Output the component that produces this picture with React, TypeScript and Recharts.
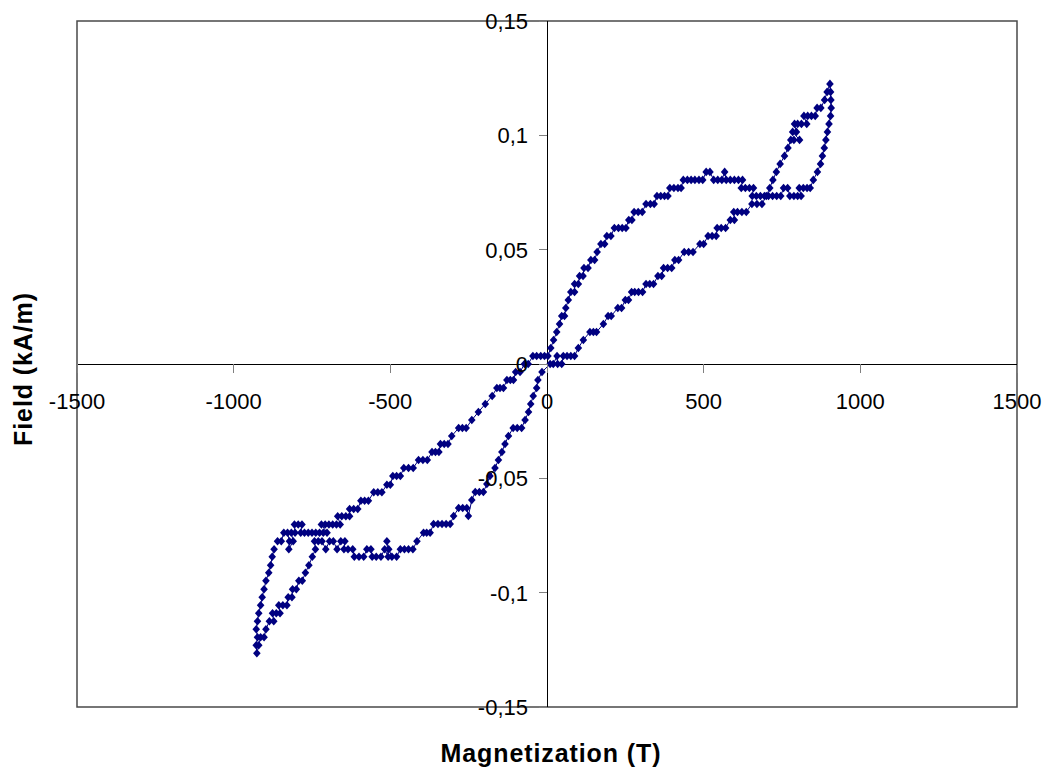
import React from "react";
import {
  ScatterChart,
  Scatter,
  XAxis,
  YAxis,
  ReferenceLine,
  ReferenceArea,
  Label,
} from "recharts";

type Pt = [number, number];

// lower loop top, rising back towards the origin
const ascendingLow: Pt[] = [
  [-860, -0.0775], [-848, -0.0775], [-840, -0.0738], [-828, -0.0738], [-822, -0.0775],
  [-824, -0.081], [-810, -0.0775], [-816, -0.0738], [-804, -0.0738], [-806, -0.0702],
  [-794, -0.0702], [-782, -0.0702], [-786, -0.0738], [-774, -0.0738], [-762, -0.0738],
  [-750, -0.0738], [-738, -0.0738], [-726, -0.0738], [-714, -0.0738], [-702, -0.0738],
  [-720, -0.0702], [-708, -0.0702], [-696, -0.0702], [-684, -0.0702], [-672, -0.0702],
  [-660, -0.0702], [-668, -0.0666], [-655, -0.0666], [-642, -0.0666], [-630, -0.0666],
  [-630, -0.0634], [-617, -0.0634], [-604, -0.0634], [-594, -0.0598], [-582, -0.0598],
  [-570, -0.0598], [-553, -0.0561], [-540, -0.0561], [-527, -0.0561], [-511, -0.0528],
  [-500, -0.0528], [-492, -0.049], [-480, -0.049], [-468, -0.049], [-457, -0.0455],
  [-442, -0.0455], [-427, -0.0455], [-410, -0.042], [-396, -0.042], [-382, -0.042],
  [-367, -0.0385], [-356, -0.0385], [-345, -0.0385], [-340, -0.035], [-328, -0.035],
  [-316, -0.035], [-304, -0.0315], [-282, -0.028], [-270, -0.028], [-258, -0.028],
  [-240, -0.0245], [-219, -0.021], [-197, -0.0175], [-175, -0.014], [-160, -0.0105],
  [-150, -0.0105], [-139, -0.0105], [-128, -0.007], [-117, -0.007], [-107, -0.007],
  [-100, -0.0035], [-86, -0.0035], [-72, 0], [-60, 0], [-45, 0.0035],
  [-33, 0.0035], [-20, 0.0035], [-8, 0.0035], [3, 0.0035],
];

// rising branch up to the plateau near 0.08
const ascendingHigh: Pt[] = [
  [12, 0.007], [21, 0.0105], [31, 0.014], [40, 0.0175], [47, 0.021],
  [56, 0.021], [60, 0.0245], [68, 0.028], [76, 0.0315], [88, 0.0315],
  [88, 0.035], [100, 0.035], [104, 0.0385], [115, 0.0385], [118, 0.042],
  [131, 0.042], [140, 0.0455], [152, 0.0455], [160, 0.049], [172, 0.0525],
  [184, 0.0525], [191, 0.056], [204, 0.056], [215, 0.0595], [228, 0.0595],
  [240, 0.0595], [252, 0.0595], [261, 0.063], [271, 0.063], [278, 0.0665],
  [291, 0.0665], [304, 0.0665], [316, 0.07], [330, 0.07], [342, 0.07],
  [351, 0.0735], [363, 0.0735], [375, 0.0735], [386, 0.0735], [392, 0.077],
  [405, 0.077], [418, 0.077], [428, 0.077], [435, 0.0805], [448, 0.0805],
  [460, 0.0805], [472, 0.0805], [485, 0.0805], [497, 0.0805], [508, 0.084],
  [520, 0.084], [532, 0.0805], [545, 0.0805], [558, 0.0805], [567, 0.084],
  [572, 0.0805], [585, 0.0805], [598, 0.0805], [611, 0.0805], [624, 0.0805],
  [620, 0.077], [633, 0.077], [646, 0.077], [659, 0.077], [655, 0.0735],
  [668, 0.0735], [681, 0.0735], [694, 0.0735],
];

// small loop at the positive tip
const upperLoop: Pt[] = [
  [707, 0.0735], [720, 0.0735], [733, 0.0735], [746, 0.0735], [755, 0.077],
  [768, 0.077], [775, 0.0735], [788, 0.0735], [800, 0.0735], [811, 0.0735],
  [805, 0.077], [818, 0.077], [830, 0.077], [840, 0.077], [850, 0.0805],
  [863, 0.084], [873, 0.0875], [879, 0.091], [885, 0.0945], [890, 0.098],
  [895, 0.1015], [900, 0.105], [905, 0.1085], [907, 0.112], [906, 0.1155],
  [905, 0.119], [903, 0.1225], [894, 0.119], [886, 0.1155], [874, 0.112],
  [862, 0.112], [856, 0.1085], [844, 0.1085], [832, 0.1085], [820, 0.1085],
  [829, 0.105], [812, 0.105], [800, 0.105], [790, 0.105], [796, 0.1015],
  [784, 0.1015], [806, 0.098], [788, 0.098], [778, 0.098], [769, 0.0945],
  [758, 0.091], [744, 0.0875], [732, 0.084], [721, 0.0805], [711, 0.077],
  [700, 0.0735],
];

// falling branch back to the origin
const descendingHigh: Pt[] = [
  [686, 0.07], [670, 0.07], [654, 0.07], [636, 0.0665], [622, 0.0665],
  [608, 0.0665], [596, 0.0665], [598, 0.063], [585, 0.063], [570, 0.0595],
  [556, 0.0595], [543, 0.0595], [540, 0.056], [527, 0.056], [514, 0.056],
  [500, 0.0525], [488, 0.0525], [466, 0.049], [452, 0.049], [438, 0.049],
  [420, 0.0455], [408, 0.0455], [398, 0.042], [385, 0.042], [372, 0.042],
  [366, 0.0385], [354, 0.0385], [340, 0.035], [328, 0.035], [316, 0.035],
  [305, 0.0315], [292, 0.0315], [280, 0.0315], [270, 0.0315], [260, 0.028],
  [250, 0.028], [238, 0.0245], [226, 0.0245], [205, 0.021], [195, 0.021],
  [180, 0.0175], [158, 0.014], [148, 0.014], [137, 0.014], [116, 0.0105],
  [100, 0.007], [88, 0.0035], [76, 0.0035], [64, 0.0035], [52, 0.0035],
  [47, 0], [34, 0], [32, 0.0035], [20, 0], [10, 0],
];

// falling branch down to the plateau near -0.08
const descendingLow: Pt[] = [
  [-16, -0.0035], [-29, -0.007], [-33, -0.0105], [-44, -0.014], [-52, -0.0175],
  [-59, -0.021], [-70, -0.0245], [-81, -0.028], [-95, -0.028], [-108, -0.028],
  [-123, -0.0315], [-134, -0.035], [-144, -0.0385], [-155, -0.042], [-166, -0.0455],
  [-182, -0.049], [-192, -0.0525], [-203, -0.056], [-216, -0.056], [-229, -0.056],
  [-240, -0.0595], [-251, -0.0665], [-256, -0.063], [-269, -0.063], [-282, -0.063],
  [-298, -0.0665], [-309, -0.07], [-322, -0.07], [-335, -0.07], [-348, -0.07],
  [-362, -0.07], [-373, -0.0738], [-384, -0.0738], [-394, -0.0738], [-415, -0.0775],
  [-428, -0.081], [-442, -0.081], [-455, -0.081], [-468, -0.081], [-480, -0.0843],
  [-495, -0.0843], [-505, -0.081], [-511, -0.0775], [-507, -0.0843], [-518, -0.081],
  [-530, -0.0843], [-545, -0.0843], [-558, -0.0843], [-562, -0.081], [-575, -0.081],
  [-585, -0.0843], [-600, -0.0843], [-615, -0.0843], [-620, -0.081], [-635, -0.081],
  [-648, -0.081], [-645, -0.0775], [-658, -0.0775], [-670, -0.081], [-682, -0.0775],
  [-694, -0.0775], [-706, -0.081], [-718, -0.0775], [-730, -0.0775], [-742, -0.0775],
];

// small loop at the negative tip
const lowerLoop: Pt[] = [
  [-739, -0.081], [-749, -0.0843], [-760, -0.088], [-771, -0.0913], [-781, -0.0948],
  [-792, -0.0948], [-800, -0.0985], [-812, -0.0985], [-814, -0.102], [-826, -0.102],
  [-830, -0.1055], [-843, -0.1055], [-856, -0.1055], [-852, -0.109], [-864, -0.109],
  [-876, -0.109], [-872, -0.1125], [-886, -0.1125], [-897, -0.116], [-903, -0.1195],
  [-914, -0.1195], [-920, -0.123], [-926, -0.1265], [-928, -0.123], [-924, -0.1195],
  [-928, -0.116], [-924, -0.1125], [-920, -0.109], [-914, -0.1055], [-909, -0.102],
  [-903, -0.0985], [-897, -0.0948], [-888, -0.0913], [-882, -0.088], [-877, -0.0843],
  [-871, -0.081],
];

const xTicks = [-1500, -1000, -500, 0, 500, 1000, 1500];
const yTicks = [-0.15, -0.1, -0.05, 0, 0.05, 0.1, 0.15];

const loop = [
  ...ascendingLow,
  ...ascendingHigh,
  ...upperLoop,
  ...descendingHigh,
  ...descendingLow,
  ...lowerLoop,
].map(([x, y]) => ({ x, y }));

const W = 1048;
const H = 771;
// one pixel of each margin is handed to the (invisible) axis strip
const margin = { top: 21, right: 31, bottom: 63, left: 76 };
const plotLeft = margin.left + 1;
const plotW = W - plotLeft - margin.right;
const plotH = H - margin.top - margin.bottom - 1;
const zeroX = plotLeft + plotW / 2;
const zeroY = margin.top + plotH / 2;

const FONT = "'Liberation Sans', Arial, sans-serif";
const NAVY = "#000080";

const fmt = (v: number) => String(v).replace(".", ",");

// axes cross at the origin, so ticks are drawn on the zero lines
const XTick = (props: any) => {
  const { x, payload } = props;
  return (
    <g>
      <line x1={x} x2={x} y1={zeroY} y2={zeroY + 9} stroke="#808080" shapeRendering="crispEdges" />
      <text x={x} y={zeroY + 44.5} textAnchor="middle" fontFamily={FONT} fontSize={22} fill="#000">
        {payload.value}
      </text>
    </g>
  );
};

const YTick = (props: any) => {
  const { y, payload } = props;
  return (
    <g>
      <line x1={zeroX - 8} x2={zeroX} y1={y} y2={y} stroke="#808080" shapeRendering="crispEdges" />
      <text x={zeroX - 19} y={y + 8} textAnchor="end" fontFamily={FONT} fontSize={22} fill="#000">
        {fmt(payload.value)}
      </text>
    </g>
  );
};

const XTitle = () => (
  <text x={551} y={761.5} textAnchor="middle" fontFamily={FONT} fontSize={25} fontWeight="bold" letterSpacing={0.9} fill="#000">
    Magnetization (T)
  </text>
);

const YTitle = () => (
  <text
    x={32}
    y={369}
    transform="rotate(-90, 32, 369)"
    textAnchor="middle"
    fontFamily={FONT}
    fontSize={25}
    fontWeight="bold"
    letterSpacing={0.9}
    fill="#000"
  >
    Field (kA/m)
  </text>
);

const Diamond = (props: any) => {
  const { cx, cy } = props;
  return (
    <polygon
      points={`${cx},${cy - 4.3} ${cx + 3.8},${cy} ${cx},${cy + 4.3} ${cx - 3.8},${cy}`}
      fill={NAVY}
    />
  );
};

const App = () => {
  return (
    <div style={{ position: "absolute", left: 0, top: 0, background: "#fff" }}>
      <ScatterChart width={W} height={H} margin={margin}>
        <ReferenceArea
          x1={-1500}
          x2={1500}
          y1={-0.15}
          y2={0.15}
          fill="none"
          stroke="#4a4a4a"
          strokeWidth={1.5}
        />
        <ReferenceLine x={0} stroke="#000" strokeWidth={1} shapeRendering="crispEdges" />
        <ReferenceLine y={0} stroke="#000" strokeWidth={1} shapeRendering="crispEdges" />
        <XAxis
          type="number"
          dataKey="x"
          domain={[-1500, 1500]}
          ticks={xTicks}
          interval={0}
          height={1}
          axisLine={false}
          tickLine={false}
          tick={XTick}
        >
          <Label content={XTitle} />
        </XAxis>
        <YAxis
          type="number"
          dataKey="y"
          domain={[-0.15, 0.15]}
          ticks={yTicks}
          interval={0}
          width={1}
          axisLine={false}
          tickLine={false}
          tick={YTick}
        >
          <Label content={YTitle} />
        </YAxis>
        <Scatter
          data={loop}
          shape={Diamond}
          line={{ stroke: NAVY, strokeWidth: 1 }}
          isAnimationActive={false}
        />
      </ScatterChart>
    </div>
  );
};

export default App;
